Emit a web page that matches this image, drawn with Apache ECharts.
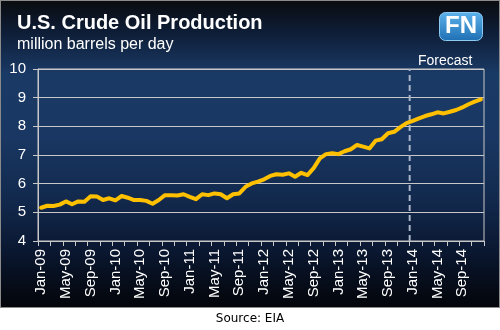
<!DOCTYPE html>
<html>
<head>
<meta charset="utf-8">
<script src="https://cdn.jsdelivr.net/npm/echarts@6/dist/echarts.min.js"></script>
<style>
  html, body { margin: 0; padding: 0; background: #ffffff; }
  #bg {
    position: absolute; left: 0; top: 0; width: 500px; height: 308px;
    box-sizing: border-box; border: 1px solid #8a8a8a;
    background: linear-gradient(to bottom, #0a0c10 0%, #0e1d36 10%, #1a3a66 24%, #193762 45%, #12294d 65%, #0a1730 82%, #030509 100%);
  }
  #chart { position: absolute; left: 0; top: 0; width: 500px; height: 330px; }
</style>
</head>
<body>
<div id="bg"></div>
<div id="chart"></div>
<script>
// ---- data ----
const years = ['09', '10', '11', '12', '13', '14'];
const monthNames = ['Jan', 'Feb', 'Mar', 'Apr', 'May', 'Jun', 'Jul', 'Aug', 'Sep', 'Oct', 'Nov', 'Dec'];
const production2009 = [5.16, 5.23, 5.22, 5.27, 5.38, 5.28, 5.38, 5.37, 5.56, 5.55, 5.43, 5.49];
const production2010 = [5.42, 5.57, 5.51, 5.43, 5.43, 5.40, 5.30, 5.43, 5.60, 5.60, 5.59, 5.63];
const production2011 = [5.54, 5.46, 5.63, 5.60, 5.66, 5.63, 5.49, 5.63, 5.66, 5.89, 6.01, 6.07];
const production2012 = [6.15, 6.27, 6.33, 6.31, 6.36, 6.24, 6.38, 6.30, 6.54, 6.88, 7.03, 7.06];
const production2013 = [7.03, 7.13, 7.20, 7.35, 7.29, 7.23, 7.50, 7.55, 7.76, 7.81, 7.97, 8.11];
const production2014 = [8.19, 8.28, 8.36, 8.42, 8.49, 8.45, 8.51, 8.57, 8.66, 8.77, 8.86, 8.94];
const forecastStartLabel = 'Jan-14';
const yTicks = [4, 5, 6, 7, 8, 9, 10];

const categories = [];
years.forEach(y => monthNames.forEach(m => categories.push(m + '-' + y)));
const production = [].concat(production2009, production2010, production2011,
                             production2012, production2013, production2014);
const forecastIndex = categories.indexOf(forecastStartLabel);
const yMin = yTicks[0], yMax = yTicks[yTicks.length - 1];

const chart = echarts.init(document.getElementById('chart'), null, { renderer: 'canvas' });
const axisGray = '#c8c8c8';
chart.setOption({
  animation: false,
  backgroundColor: 'transparent',
  title: {
    text: 'U.S. Crude Oil Production',
    subtext: 'million barrels per day',
    left: 12, top: 8, itemGap: 4,
    textStyle: { color: '#ffffff', fontSize: 20, fontWeight: 'bold', fontFamily: 'Arial, "Liberation Sans"' },
    subtextStyle: { color: '#ffffff', fontSize: 16, fontFamily: 'Arial, "Liberation Sans"' }
  },
  grid: {
    left: 38, right: 16, top: 69, bottom: 89,
    show: true, borderColor: axisGray, borderWidth: 1, backgroundColor: 'transparent'
  },
  xAxis: [{
    type: 'category',
    data: categories,
    boundaryGap: true,
    axisLine: { lineStyle: { color: axisGray, width: 1 } },
    axisTick: { show: true, interval: 1, length: 5, lineStyle: { color: axisGray } },
    axisLabel: {
      interval: 3, rotate: 90, margin: 8, color: '#ffffff',
      fontSize: 15, fontFamily: 'Arial, "Liberation Sans"'
    },
    splitLine: { show: false }
  }, {
    type: 'value', min: 0, max: categories.length, show: false
  }],
  yAxis: {
    type: 'value', min: yMin, max: yMax, interval: 1,
    axisLine: { show: true, lineStyle: { color: axisGray } },
    axisTick: { show: true, length: 5, lineStyle: { color: axisGray } },
    axisLabel: { color: '#ffffff', fontSize: 15, margin: 12, fontFamily: 'Arial, "Liberation Sans"' },
    splitLine: { show: true, lineStyle: { color: axisGray, width: 1 } }
  },
  series: [{
    name: 'Production',
    type: 'line',
    data: production,
    symbol: 'none',
    smooth: false,
    lineStyle: { color: '#FFC000', width: 4, join: 'round', cap: 'round' },
    z: 5
  }, {
    name: 'Forecast divider',
    type: 'line',
    xAxisIndex: 1,
    data: [[forecastIndex, yMin], [forecastIndex, yMax]],
    symbol: 'none',
    lineStyle: { color: '#aab6c8', width: 2, type: [6, 4] },
    z: 3
  }],
  graphic: [
    {
      type: 'text', left: 418, top: 54, silent: true,
      style: { text: 'Forecast', fill: '#ffffff', font: '14px Arial, "Liberation Sans"' }
    },
    {
      type: 'group', left: 439, top: 12, silent: true,
      children: [
        {
          type: 'rect', shape: { x: 0, y: 0, width: 43, height: 28, r: 6 },
          style: {
            fill: new echarts.graphic.LinearGradient(0, 0, 0, 1, [
              { offset: 0, color: '#5db3ec' }, { offset: 1, color: '#1e6fb3' }
            ]),
            stroke: '#8ccaf2', lineWidth: 1
          }
        },
        {
          type: 'text', x: 21.5, y: 14,
          style: {
            text: 'FN', fill: '#ffffff', font: 'bold 24px Arial, "Liberation Sans"',
            align: 'center', verticalAlign: 'middle'
          }
        }
      ]
    },
    {
      type: 'text', left: 'center', top: 313, silent: true,
      style: { text: 'Source: EIA', fill: '#000000', font: '12px "DejaVu Sans", Tahoma, sans-serif' }
    }
  ]
});
</script>
</body>
</html>
